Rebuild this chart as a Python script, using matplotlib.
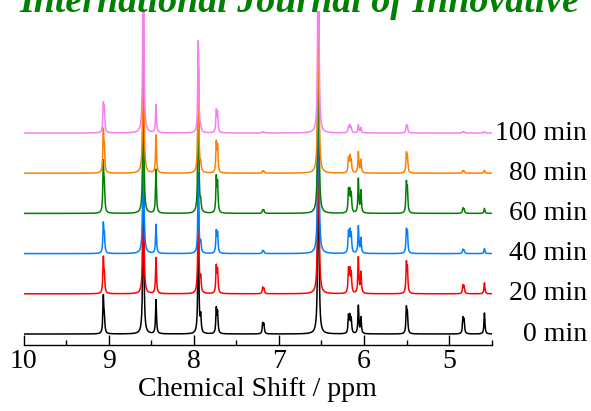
import numpy as np
import matplotlib
matplotlib.use("Agg")
import matplotlib.pyplot as plt
import matplotlib.transforms as mtransforms

# peak positions (ppm) and apparent heights (px above each baseline)
shifts = [9.062, 9.050, 8.592, 8.443, 7.946, 7.918, 7.735, 7.720, 7.190, 7.176,
          6.536, 6.182, 6.166, 6.150, 6.066, 6.036, 5.502, 5.490, 4.838, 4.824, 4.585]

h_0min = [36, 14, 200, 34, 120, 16, 24, 20, 10, 9, 280, 17, 16, 14, 28, 16, 24, 18, 15, 13, 21]
h_20min = [34, 16, 160, 36, 110, 14, 26, 22, 6, 5, 280, 23, 21, 19, 36, 21, 28, 22, 8, 7, 11]
h_40min = [28, 16, 170, 29, 80, 10, 21, 19, 3, 2, 280, 20, 20, 18, 27, 15, 21, 19, 4, 3, 5]
h_60min = [48, 24, 180, 44, 145, 9, 34, 28, 3, 3, 280, 22, 20, 18, 34, 22, 28, 22, 5, 4, 5]
h_80min = [40, 22, 200, 38, 120, 7, 29, 25, 2, 2, 280, 14, 15, 12, 21, 13, 18, 15, 2.5, 2, 3]
h_100min = [26, 22, 250, 28, 92, 5, 21, 19, 1, 1, 300, 6, 7, 5, 8, 5, 7, 6, 1.5, 1, 1.5]

labels = ["0 min", "20 min", "40 min", "60 min", "80 min", "100 min"]
colors = ["black", "#ff0000", "#0080ff", "#008000", "#ff8000", "#f57ff5"]
all_heights = [h_0min, h_20min, h_40min, h_60min, h_80min, h_100min]

W, H = 591, 411
fig = plt.figure(figsize=(W / 100, H / 100), dpi=100)
ax_left, ax_right, ax_top, ax_bot = 23.5, 491.7, 11, 345
ax = fig.add_axes([ax_left / W, 1 - ax_bot / H, (ax_right - ax_left) / W, (ax_bot - ax_top) / H])

ppm = np.linspace(4.5, 10, 30000)
gamma = 0.0065
base0, step = 11, 40.2

for i, hts in enumerate(all_heights):
    y = np.zeros_like(ppm)
    for s, h in zip(shifts, hts):
        y += h * gamma**2 / ((ppm - s)**2 + gamma**2)
    ax.plot(ppm, y + base0 + i * step, color=colors[i], lw=1.1, zorder=2 + i)

ax.set_xlim(10, 4.5)
ax.set_ylim(0, ax_bot - ax_top)
for side in ["left", "right", "top"]:
    ax.spines[side].set_visible(False)
ax.spines["bottom"].set_linewidth(1.0)
ax.set_yticks([])
ax.set_xticks([10, 9, 8, 7, 6, 5])
ax.set_xticks(np.arange(4.5, 10.01, 0.5), minor=True)
ax.tick_params(axis="x", which="major", direction="in", length=7, width=1.0,
               labelsize=20, pad=3)
ax.tick_params(axis="x", which="minor", direction="in", length=3.3, width=1.0)
for lab in ax.get_xticklabels():
    lab.set_family("Liberation Serif")
ax.set_xlabel("Chemical Shift / ppm", fontsize=20, family="Liberation Serif", labelpad=2)

trans = mtransforms.blended_transform_factory(fig.transFigure, ax.transData)
for i, lab in enumerate(labels):
    ax.text(587 / W, base0 + i * step, lab, transform=trans, ha="right", va="center",
            fontsize=20, family="Liberation Serif", clip_on=False)

# cut-off journal header at the top
t = fig.text(19 / W, 1 - 12.5 / H, "International Journal of Innovative", color="#008000",
             fontsize=28, family="Liberation Serif", style="italic", weight="bold",
             ha="left", va="baseline")
fig.canvas.draw()
w = t.get_window_extent().width
t.set_fontsize(28 * 561 / w)

fig.savefig("out.png", dpi=100)
